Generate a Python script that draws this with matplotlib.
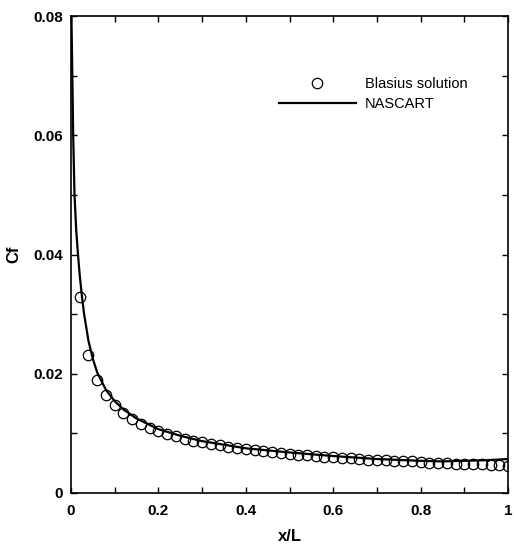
import matplotlib
matplotlib.use("Agg")
import matplotlib.pyplot as plt
from matplotlib.ticker import MultipleLocator

plt.rcParams['font.family'] = ['Liberation Sans', 'DejaVu Sans']

# Blasius solution (circles)
blasius_x = [0.02, 0.04, 0.06, 0.08, 0.10, 0.12, 0.14, 0.16, 0.18, 0.20,
             0.22, 0.24, 0.26, 0.28, 0.30, 0.32, 0.34, 0.36, 0.38, 0.40,
             0.42, 0.44, 0.46, 0.48, 0.50, 0.52, 0.54, 0.56, 0.58, 0.60,
             0.62, 0.64, 0.66, 0.68, 0.70, 0.72, 0.74, 0.76, 0.78, 0.80,
             0.82, 0.84, 0.86, 0.88, 0.90, 0.92, 0.94, 0.96, 0.98, 1.00]
blasius_cf = [0.0328, 0.0232, 0.0189, 0.0164, 0.0147, 0.0134, 0.0124, 0.0116, 0.0109, 0.0104,
              0.0099, 0.0095, 0.0091, 0.0088, 0.0085, 0.0082, 0.0080, 0.0077, 0.0075, 0.0073,
              0.0072, 0.0070, 0.0068, 0.0067, 0.0066, 0.0064, 0.0063, 0.0062, 0.0061, 0.0060,
              0.0059, 0.0058, 0.0057, 0.0056, 0.0055, 0.0055, 0.0054, 0.0053, 0.0053, 0.0052,
              0.0051, 0.0051, 0.0050, 0.0049, 0.0049, 0.0048, 0.0048, 0.0047, 0.0047, 0.0046]

# NASCART (solid line)
nascart_x = [0.001, 0.003, 0.005, 0.008, 0.012, 0.016, 0.02, 0.025, 0.03, 0.04,
             0.05, 0.06, 0.08, 0.10, 0.12, 0.15, 0.20, 0.25, 0.30, 0.35,
             0.40, 0.50, 0.60, 0.70, 0.80, 0.85, 0.90, 0.95, 1.00]
nascart_cf = [0.0800, 0.0700, 0.0600, 0.0500, 0.0440, 0.0400, 0.0365, 0.0330, 0.0300, 0.0255,
              0.0225, 0.0202, 0.0173, 0.0154, 0.0140, 0.0125, 0.0107, 0.0096, 0.0087, 0.0081,
              0.0075, 0.0068, 0.0062, 0.0057, 0.0054, 0.0053, 0.0054, 0.0055, 0.0057]

fig = plt.figure(figsize=(5.14, 5.49), dpi=100)
ax = fig.add_axes([71/514, 1 - 493/549, (508 - 71)/514, (493 - 16)/549])

ax.plot(blasius_x, blasius_cf, linestyle='none', marker='o', markersize=7.5,
        markerfacecolor='none', markeredgecolor='black', markeredgewidth=0.9,
        label='Blasius solution')
ax.plot(nascart_x, nascart_cf, color='black', linewidth=1.6, label='NASCART')

ax.set_xlim(0, 1)
ax.set_ylim(0, 0.08)
ax.xaxis.set_minor_locator(MultipleLocator(0.1))
ax.yaxis.set_minor_locator(MultipleLocator(0.01))
ax.set_xticks([0, 0.2, 0.4, 0.6, 0.8, 1.0])
ax.set_xticklabels(['0', '0.2', '0.4', '0.6', '0.8', '1'])
ax.set_yticks([0, 0.02, 0.04, 0.06, 0.08])
ax.set_yticklabels(['0', '0.02', '0.04', '0.06', '0.08'])
ax.tick_params(which='both', direction='in', top=True, right=True, length=4, width=1)
for lab in ax.get_xticklabels() + ax.get_yticklabels():
    lab.set_fontweight('bold')
    lab.set_fontsize(11)
ax.tick_params(axis='x', pad=8)
ax.tick_params(axis='y', pad=6)
for s in ax.spines.values():
    s.set_linewidth(1.2)

ax.set_xlabel('x/L', fontsize=12, fontweight='bold', labelpad=8)
ax.set_ylabel('Cf', fontsize=12, fontweight='bold', labelpad=8)

ax.legend(loc='upper left', bbox_to_anchor=(0.445, 0.90), frameon=False,
          fontsize=10.5, handlelength=5.3, handletextpad=0.6, labelspacing=0.45,
          numpoints=1)

fig.savefig('out.png', dpi=100)
